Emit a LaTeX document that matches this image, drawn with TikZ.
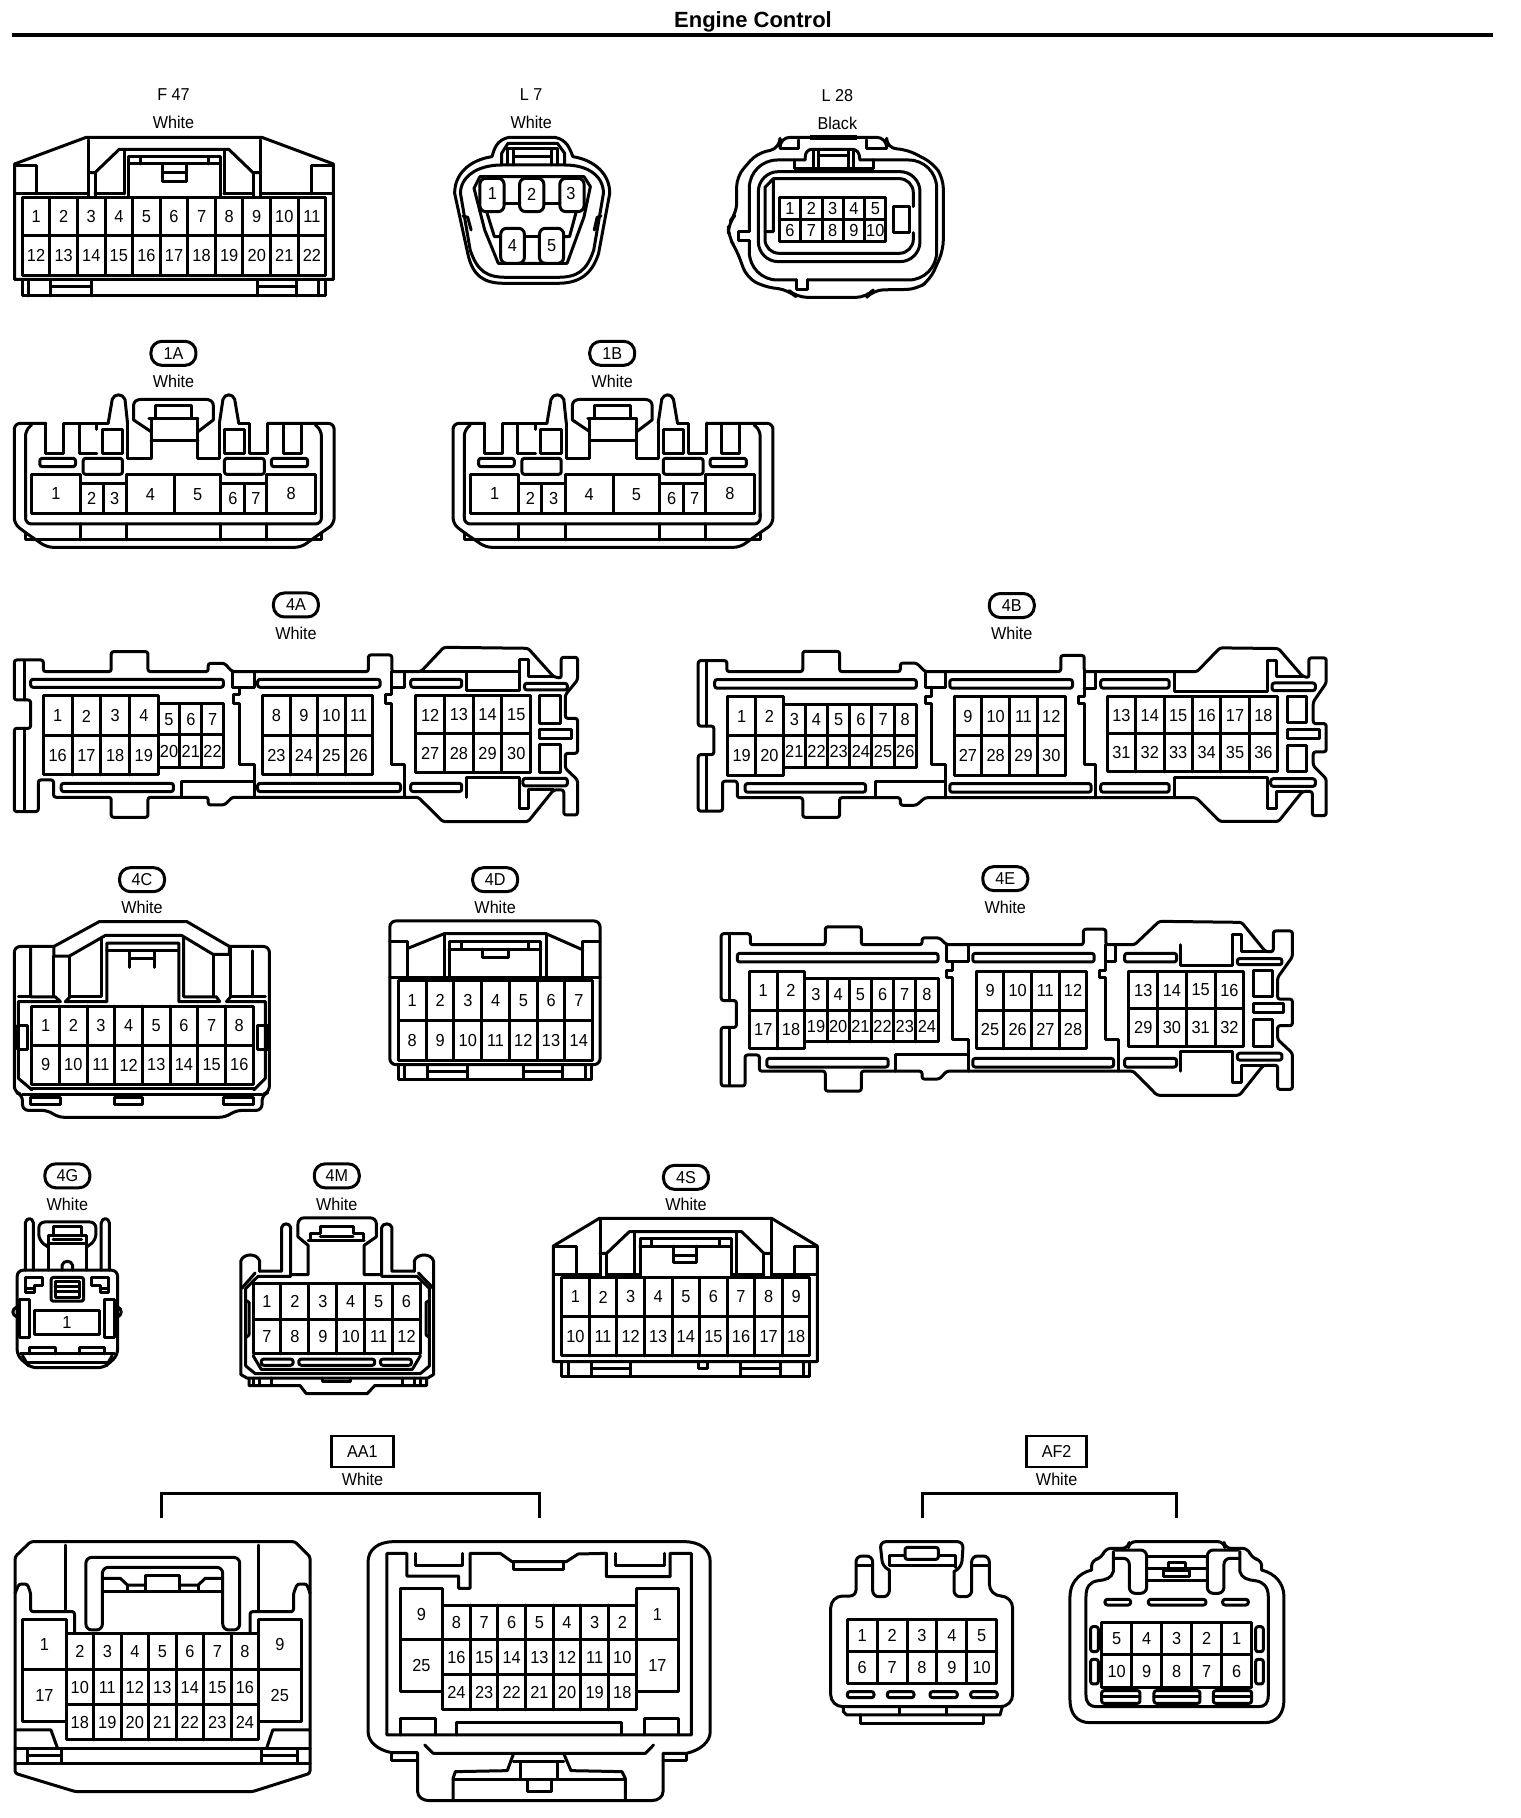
\documentclass[tikz,border=0pt]{standalone}
\usepackage{fontspec}
\setmainfont{Liberation Sans}
\newfontfamily\pinfont[FakeStretch=.94]{Liberation Sans}
\tikzset{
	wire/.style={line width=1.5pt,line join=round,line cap=round},
	curved/.style={wire,rounded corners=3pt},
	slot/.style={wire,rounded corners=1.2pt},
	pinnum/.style={inner sep=0pt,font=\pinfont\fontsize{8.7}{10}\selectfont},
	capt/.style={inner sep=0pt,font=\pinfont\fontsize{8.6}{10}\selectfont},
	tagpill/.style={draw,line width=1.5pt,rounded corners=5.5pt,inner sep=0pt,minimum width=22.5pt,minimum height=12pt,font=\pinfont\fontsize{8.6}{10}\selectfont},
	tagbox/.style={draw,line width=1.3pt,inner sep=0pt,minimum height=15.5pt,font=\pinfont\fontsize{8.6}{10}\selectfont},
	viewA/.style={shift={(0,0)},xscale=.4847,yscale=.3333},
	viewB/.style={shift={(0,340)},xscale=.5102,yscale=.3333},
	viewC/.style={shift={(680,590)},xscale=.4337,yscale=.3444},
	viewD/.style={shift={(0,870)},xscale=.4082,yscale=.3444},
	viewE/.style={shift={(540,1170)},scale=.3333},
	viewF/.style={shift={(0,1430)},xscale=.4719,yscale=.3333},
	viewG/.style={shift={(800,1430)},scale=.3333},
	viewH/.style={shift={(720,80)},scale=.3333}
}
% one row of pins: connector, x0, x1, y0, y1, count, numbers
\newcommand{\pinrow}[7]{
	\pgfmathsetmacro{\cellw}{(#3-#2)/#6}
	\draw[wire] (#2,#4) rectangle (#3,#5);
	\foreach \lab [count=\i] in {#7}{
		\ifnum\i<#6 \draw[wire] ({#2+\i*\cellw},#4) -- ({#2+\i*\cellw},#5);\fi
		\node[pinnum] (#1-\lab) at ({#2+(\i-0.5)*\cellw},{(#4+#5)/2}) {\lab};
	}
}
% one single pin: connector, x0, x1, y0, y1, number
\newcommand{\pinbox}[6]{
	\draw[wire] (#2,#4) rectangle (#3,#5);
	\node[pinnum] (#1-#6) at ({(#2+#3)/2},{(#4+#5)/2}) {#6};
}
\begin{document}
\begin{tikzpicture}[x=0.5pt,y=-0.5pt]
	\useasboundingbox (0,0) rectangle (1520,1818);

	\node[font=\fontsize{11}{12}\selectfont\bfseries,inner sep=0pt] (title) at (753,22) {Engine Control};
	\coordinate (ruleL) at (12,35);
	\coordinate (ruleR) at (1493,35);
	\draw[line width=2pt] (ruleL) -- (ruleR);

	% F47
	\begin{scope}[viewA]
		\node[capt] (nameF47) at (358,285) {F 47};
		\node[capt] (colF47) at (358,368) {White};
		\draw[wire] (30,838) -- (30,492) -- (178,412) -- (540,412) -- (688,492) -- (688,838) -- cycle;
		\draw[wire] (46,838) -- (46,888) -- (672,888) -- (672,838);
		\foreach \xx in {58,105,188,532,612,658} \draw[wire] (\xx,838) -- (\xx,888);
		\draw[wire] (105,860) -- (188,860);
		\draw[wire] (532,860) -- (612,860);
		\draw[wire] (30,582) -- (180,582);
		\draw[wire] (540,582) -- (688,582);
		\draw[wire] (30,498) -- (75,498) -- (75,582);
		\draw[wire] (688,498) -- (642,498) -- (642,582);
		\draw[wire] (182,420) -- (182,592);
		\draw[wire] (538,420) -- (538,592);
		\draw[wire] (182,518) -- (196,518) -- (246,448) -- (472,448) -- (522,518) -- (538,518);
		\draw[wire] (196,518) -- (196,592);
		\draw[wire] (522,518) -- (522,592);
		\draw[wire] (196,582) -- (256,582);
		\draw[wire] (462,582) -- (522,582);
		\draw[wire] (256,450) -- (256,582);
		\draw[wire] (464,450) -- (464,582);
		\draw[wire] (266,592) -- (266,470) -- (454,470) -- (454,592);
		\draw[wire] (266,492) -- (454,492);
		\draw[wire] (290,470) -- (290,492);
		\draw[wire] (430,470) -- (430,492);
		\draw[wire] (335,492) -- (335,545) -- (384,545) -- (384,492);
		\draw[wire] (335,518) -- (384,518);
		\pinrow{F47}{46}{672}{592}{708}{11}{1,...,11}
		\pinrow{F47}{46}{672}{708}{826}{11}{12,...,22}
	\end{scope}

	% L7
	\begin{scope}[viewA]
		\node[capt] (nameL7) at (1096,285) {L 7};
		\node[capt] (colL7) at (1096,368) {White};
		\draw[wire] (1050,412) -- (1145,412) .. controls (1170,420) and (1175,445) .. (1182,470) .. controls (1225,480) and (1258,520) .. (1258,580) -- (1235,760) .. controls (1220,830) and (1190,850) .. (1150,850) -- (1040,850) .. controls (1000,850) and (975,830) .. (965,760) -- (938,580) .. controls (938,520) and (970,480) .. (1015,470) .. controls (1020,445) and (1025,420) .. (1050,412) -- cycle;
		\draw[wire] (1035,495) -- (1165,495) .. controls (1215,495) and (1245,530) .. (1245,580) -- (1225,750) .. controls (1210,815) and (1190,832) .. (1150,832) -- (1045,832) .. controls (1005,832) and (985,815) .. (970,750) -- (950,580) .. controls (950,530) and (985,495) .. (1035,495) -- cycle;
		\draw[wire] (955,648) -- (965,652) -- (972,690);
		\draw[wire] (1240,648) -- (1232,652) -- (1226,690);
		\draw[wire] (1028,790) -- (1000,690) -- (978,565) -- (990,530) -- (1205,530) -- (1218,560) -- (1205,650) -- (1170,790) -- cycle;
		\draw[curved,fill=white] (990,635) rectangle (1040,535);
		\draw[curved,fill=white] (1072,635) rectangle (1122,535);
		\draw[curved,fill=white] (1155,635) rectangle (1205,535);
		\draw[curved,fill=white] (1033,790) rectangle (1082,685);
		\draw[curved,fill=white] (1113,790) rectangle (1163,685);
		\draw[wire] (1040,610) -- (1072,610);
		\draw[wire] (1122,610) -- (1155,610);
		\draw[wire] (1082,710) -- (1113,710);
		\draw[wire] (1005,640) -- (1020,710) -- (1033,710);
		\draw[wire] (1188,640) -- (1175,710) -- (1163,710);
		\draw[wire] (1035,495) -- (1035,460) -- (1048,430) -- (1150,430) -- (1165,460) -- (1165,495);
		\draw[wire] (1048,495) -- (1048,445) -- (1150,445) -- (1150,495);
		\draw[wire] (1060,495) -- (1060,445);
		\draw[wire] (1138,495) -- (1138,445);
		\draw[wire] (1060,470) -- (1138,470);
		\node[pinnum] (L7-1) at (1016,582) {1};
		\node[pinnum] (L7-2) at (1097,582) {2};
		\node[pinnum] (L7-3) at (1178,582) {3};
		\node[pinnum] (L7-4) at (1057,737) {4};
		\node[pinnum] (L7-5) at (1138,737) {5};
	\end{scope}

	% L28
	\begin{scope}[viewH]
		\node[capt] (nameL28) at (352,48) {L 28};
		\node[capt] (colL28) at (352,130) {Black};
		\draw[wire,rounded corners=5pt] (180,205) -- (180,172) -- (500,172) -- (500,205) -- (560,208) -- (640,250) -- (670,295) -- (670,510) -- (630,600) -- (590,628) -- (460,630) -- (440,652) -- (230,652) -- (205,630) -- (130,620) -- (80,592) -- (50,510) -- (25,470) -- (25,430) -- (50,400) -- (50,290) -- (110,220) -- cycle;
		\draw[line width=2.4pt] (270,172) -- (410,172);
		\draw[wire] (180,205) -- (235,205) -- (235,180);
		\draw[wire] (500,205) -- (440,205) -- (440,180);
		\draw[wire] (88,455) -- (55,455) -- (55,482) -- (88,482);
		\draw[wire,rounded corners=14pt] (88,455) -- (88,240) -- (255,240);
		\draw[wire,rounded corners=14pt] (88,482) -- (88,600) -- (230,600);
		\draw[wire,rounded corners=14pt] (420,240) -- (650,240) -- (650,600) -- (262,600);
		\draw[wire] (230,600) -- (230,628) -- (262,628) -- (262,600);
		\draw[wire,rounded corners=10pt] (115,275) rectangle (600,545);
		\draw[wire] (160,296) -- (135,322) -- (135,455) -- (160,455) -- cycle;
		\draw[wire,rounded corners=7pt] (160,296) -- (580,296) -- (580,380);
		\draw[wire,rounded corners=7pt] (580,458) -- (580,520) -- (135,520) -- (135,455);
		\draw[wire] (520,380) rectangle (570,458);
		\draw[curved] (255,240) -- (258,208) -- (415,208) -- (420,240);
		\draw[wire] (222,240) -- (222,265) -- (460,265) -- (460,240);
		\foreach \xx in {280,295,385,400} \draw[wire] (\xx,210) -- (\xx,265);
		\draw[wire] (295,228) -- (385,228);
		\pinrow{L28}{178}{498}{352}{418}{5}{1,...,5}
		\pinrow{L28}{178}{498}{418}{484}{5}{6,...,10}
	\end{scope}

	% 1A and 1B are the same shell
	\begin{scope}[viewB]
		\foreach \nm/\dx in {1A/0,1B/860}{
			\begin{scope}[shift={(\dx,0)}]
				\node[tagpill] (tag\nm) at (340,40) {\nm};
				\node[capt] (col\nm) at (340,125) {White};
				\draw[curved] (90,250) -- (28,250) -- (28,552) -- (50,578) -- (92,622) -- (590,622) -- (630,578) -- (655,552) -- (655,250) -- (525,250);
				\draw[wire] (90,250) -- (90,340) -- (125,340) -- (125,250) -- (212,250);
				\draw[wire] (525,250) -- (525,340) -- (490,340) -- (490,250) -- (468,250);
				\draw[wire] (212,250) -- (220,178) .. controls (224,160) and (240,160) .. (245,178) -- (250,250);
				\draw[wire] (430,250) -- (437,178) .. controls (441,160) and (456,160) .. (460,178) -- (468,250);
				\draw[wire] (250,250) -- (250,355) -- (296,355) -- (296,235);
				\draw[wire] (430,250) -- (430,355) -- (388,355) -- (388,235);
				\draw[wire] (296,275) -- (262,240) -- (262,195) .. controls (262,185) and (268,178) .. (278,178) -- (402,178) .. controls (412,178) and (418,185) .. (418,195) -- (418,240) -- (388,275);
				\draw[wire] (292,235) -- (388,235);
				\draw[wire] (305,235) -- (305,198) -- (375,198) -- (375,235);
				\draw[wire] (296,302) -- (388,302);
				\draw[curved] (50,530) -- (50,270) -- (62,255);
				\draw[curved] (630,530) -- (630,270) -- (618,255);
				\draw[wire] (155,250) -- (155,340) -- (190,340);
				\draw[wire] (190,250) -- (190,268);
				\draw[wire] (200,268) rectangle (240,340);
				\draw[wire] (440,268) rectangle (480,340);
				\draw[wire] (555,250) -- (555,340) -- (590,340) -- (590,250);
				\draw[slot] (78,355) rectangle (148,380);
				\draw[slot] (163,355) rectangle (240,403);
				\draw[slot] (440,355) rectangle (518,403);
				\draw[slot] (532,355) rectangle (603,380);
				\pinbox{\nm}{62}{157}{403}{520}{1}
				\pinbox{\nm}{157}{202}{430}{520}{2}
				\pinbox{\nm}{202}{248}{430}{520}{3}
				\pinbox{\nm}{248}{342}{405}{520}{4}
				\pinbox{\nm}{342}{433}{405}{520}{5}
				\pinbox{\nm}{433}{480}{430}{520}{6}
				\pinbox{\nm}{480}{523}{430}{520}{7}
				\pinbox{\nm}{523}{618}{403}{520}{8}
				\draw[curved] (50,520) -- (50,552) -- (630,552) -- (630,520);
				\draw[wire] (50,578) -- (50,600) -- (630,600) -- (630,578);
				\foreach \xx in {157,248,433,523} \draw[wire] (\xx,552) -- (\xx,600);
			\end{scope}
		}
	\end{scope}

	% 4A
	\begin{scope}[viewB]
		\node[tagpill] (tag4A) at (580,795) {4A};
		\node[capt] (col4A) at (580,880) {White};
		\draw[slot] (85,995) -- (85,960) -- (28,960) -- (28,1080) -- (60,1080) -- (60,1165) -- (28,1165) -- (28,1415) -- (75,1415) -- (75,1320) -- (105,1320) -- (105,1372) -- (218,1372) -- (218,1432) -- (290,1432) -- (290,1372) -- (408,1372) -- (408,1395) -- (440,1395) -- (455,1372) -- (820,1372) -- (868,1445) -- (1035,1445) -- (1085,1350) -- (1105,1350) -- (1105,1425) -- (1132,1425) -- (1132,1320) -- (1108,1285) -- (1108,1240) -- (1132,1240) -- (1132,1135) -- (1108,1135) -- (1108,1065) -- (1132,1020) -- (1132,952) -- (1100,952) -- (1100,1015) -- (1085,1010) -- (1035,925) -- (870,922) -- (825,995) -- (768,995) -- (768,945) -- (722,945) -- (722,995) -- (455,995) -- (440,970) -- (408,970) -- (408,995) -- (290,995) -- (290,935) -- (218,935) -- (218,995) -- cycle;
		\draw[wire] (48,962) -- (48,1080);
		\draw[wire] (48,1165) -- (48,1412);
		\draw[wire] (1018,995) -- (1018,960) -- (1035,960) -- (1035,1010) -- (1085,1010);
		\draw[wire] (1018,1372) -- (1018,1405) -- (1035,1405) -- (1035,1350) -- (1085,1350);
		\draw[wire] (825,995) -- (1018,995);
		\foreach \xa/\ya/\xb/\yb in {60/1018/438/1042,505/1018/745/1042,805/1018/905/1042,1028/1030/1112/1050,120/1330/340/1355,505/1330/785/1355,805/1330/905/1355,1025/1315/1112/1338}
			\draw[slot] (\xa,\ya) rectangle (\xb,\yb);
		\draw[wire] (915,995) -- (915,1052) -- (1018,1052) -- (1018,995);
		\draw[wire] (915,1372) -- (915,1312) -- (1018,1312) -- (1018,1372);
		\draw[wire] (455,995) -- (455,1042) -- (498,1042) -- (498,995);
		\draw[wire] (470,1042) -- (470,1065) -- (458,1065) -- (458,1090) -- (470,1090) -- (470,1275) -- (498,1275) -- (498,1372);
		\draw[wire] (355,1372) -- (355,1325) -- (498,1325);
		\draw[wire] (768,995) -- (768,1065) -- (755,1065) -- (755,1090) -- (768,1090) -- (768,1275) -- (792,1275) -- (792,1372);
		\draw[wire] (768,1042) -- (792,1042) -- (792,995);
		\draw[wire] (1058,1068) rectangle (1098,1150);
		\draw[wire] (1058,1168) rectangle (1120,1195);
		\draw[wire] (1058,1215) rectangle (1098,1298);
		\pinrow{4A}{85}{310}{1068}{1188}{4}{1,...,4}
		\pinrow{4A}{85}{310}{1188}{1305}{4}{16,...,19}
		\pinrow{4A}{310}{438}{1092}{1185}{3}{5,6,7}
		\pinrow{4A}{310}{438}{1185}{1282}{3}{20,21,22}
		\pinrow{4A}{515}{730}{1068}{1188}{4}{8,...,11}
		\pinrow{4A}{515}{730}{1188}{1305}{4}{23,...,26}
		\pinrow{4A}{815}{1040}{1068}{1182}{4}{12,...,15}
		\pinrow{4A}{815}{1040}{1182}{1298}{4}{27,...,30}
	\end{scope}

	% 4B
	\begin{scope}[viewC]
		\node[tagpill] (tag4B) at (765,45) {4B};
		\node[capt] (col4B) at (765,125) {White};
		\draw[slot] (108,237) -- (108,205) -- (42,205) -- (42,395) -- (78,395) -- (78,478) -- (42,478) -- (42,642) -- (98,642) -- (98,555) -- (132,555) -- (132,603) -- (283,603) -- (283,660) -- (368,660) -- (368,603) -- (508,603) -- (508,625) -- (545,625) -- (565,603) -- (1190,603) -- (1245,672) -- (1380,672) -- (1435,585) -- (1458,585) -- (1458,655) -- (1490,655) -- (1490,548) -- (1460,510) -- (1460,470) -- (1490,470) -- (1490,388) -- (1460,388) -- (1460,325) -- (1490,270) -- (1490,197) -- (1450,197) -- (1450,255) -- (1435,250) -- (1380,170) -- (1245,168) -- (1192,237) -- (932,237) -- (932,190) -- (878,190) -- (878,237) -- (565,237) -- (545,212) -- (508,212) -- (508,237) -- (368,237) -- (368,178) -- (283,178) -- (283,237) -- cycle;
		\draw[wire] (62,207) -- (62,395);
		\draw[wire] (62,478) -- (62,640);
		\foreach \xa/\ya/\xb/\yb in {80/260/545/285,622/260/905/285,970/260/1128/285,1365/270/1465/292,150/562/428/587,622/562/948/587,970/562/1128/587,1362/548/1465/570}
			\draw[slot] (\xa,\ya) rectangle (\xb,\yb);
		\draw[wire] (1140,237) -- (1140,295) -- (1355,295) -- (1355,205) -- (1375,205) -- (1375,250) -- (1435,250);
		\draw[wire] (1140,603) -- (1140,545) -- (1355,545) -- (1355,635) -- (1375,635) -- (1375,585) -- (1435,585);
		\draw[wire] (565,237) -- (565,282) -- (612,282) -- (612,237);
		\draw[wire] (580,282) -- (580,310) -- (565,310) -- (565,330) -- (580,330) -- (580,508) -- (612,508) -- (612,603);
		\draw[wire] (450,603) -- (450,555) -- (612,555);
		\draw[wire] (932,237) -- (932,310) -- (918,310) -- (918,330) -- (932,330) -- (932,508) -- (958,508) -- (958,603);
		\draw[wire] (932,285) -- (958,285) -- (958,237);
		\draw[wire] (1400,310) rectangle (1445,385);
		\draw[wire] (1400,405) rectangle (1475,432);
		\draw[wire] (1400,452) rectangle (1445,528);
		\pinrow{4B}{110}{238}{310}{422}{2}{1,2}
		\pinrow{4B}{110}{238}{422}{538}{2}{19,20}
		\pinrow{4B}{238}{545}{332}{422}{6}{3,...,8}
		\pinrow{4B}{238}{545}{422}{515}{6}{21,...,26}
		\pinrow{4B}{632}{888}{310}{422}{4}{9,...,12}
		\pinrow{4B}{632}{888}{422}{538}{4}{27,...,30}
		\pinrow{4B}{985}{1378}{310}{418}{6}{13,...,18}
		\pinrow{4B}{985}{1378}{418}{528}{6}{31,...,36}
	\end{scope}

	% 4E
	\begin{scope}[viewC]
		\node[tagpill] (tag4E) at (750,838) {4E};
		\node[capt] (col4E) at (750,920) {White};
		\draw[slot] (162,1030) -- (162,998) -- (95,998) -- (95,1192) -- (130,1192) -- (130,1270) -- (95,1270) -- (95,1440) -- (150,1440) -- (150,1350) -- (183,1350) -- (183,1397) -- (335,1397) -- (335,1455) -- (418,1455) -- (418,1397) -- (558,1397) -- (558,1420) -- (598,1420) -- (615,1397) -- (1045,1397) -- (1100,1467) -- (1290,1467) -- (1345,1380) -- (1378,1380) -- (1378,1450) -- (1412,1450) -- (1412,1345) -- (1378,1305) -- (1378,1265) -- (1412,1265) -- (1412,1188) -- (1378,1188) -- (1378,1125) -- (1412,1065) -- (1412,990) -- (1368,990) -- (1368,1050) -- (1350,1050) -- (1295,965) -- (1105,962) -- (1048,1030) -- (982,1030) -- (982,985) -- (930,985) -- (930,1030) -- (615,1030) -- (598,1010) -- (558,1010) -- (558,1030) -- (418,1030) -- (418,978) -- (335,978) -- (335,1030) -- cycle;
		\draw[wire] (115,1000) -- (115,1192);
		\draw[wire] (115,1270) -- (115,1438);
		\foreach \xa/\ya/\xb/\yb in {132/1055/595/1080,675/1055/955/1080,1025/1055/1145/1080,1285/1070/1388/1088,200/1360/480/1385,675/1360/1000/1385,1025/1360/1145/1385,1285/1345/1388/1365}
			\draw[slot] (\xa,\ya) rectangle (\xb,\yb);
		\draw[wire] (1155,1030) -- (1155,1090) -- (1275,1090) -- (1275,1000) -- (1295,1000) -- (1295,1050) -- (1350,1050);
		\draw[wire] (1155,1397) -- (1155,1340) -- (1275,1340) -- (1275,1430) -- (1295,1430) -- (1295,1380) -- (1345,1380);
		\draw[wire] (615,1030) -- (615,1078) -- (665,1078) -- (665,1030);
		\draw[wire] (628,1078) -- (628,1105) -- (615,1105) -- (615,1125) -- (628,1125) -- (628,1305) -- (665,1305) -- (665,1397);
		\draw[wire] (498,1397) -- (498,1350) -- (665,1350);
		\draw[wire] (982,1030) -- (982,1105) -- (968,1105) -- (968,1125) -- (982,1125) -- (982,1305) -- (1010,1305) -- (1010,1397);
		\draw[wire] (982,1078) -- (1005,1078) -- (1005,1030);
		\draw[wire] (1322,1105) rectangle (1365,1180);
		\draw[wire] (1322,1200) rectangle (1392,1228);
		\draw[wire] (1322,1248) rectangle (1365,1325);
		\pinrow{4E}{160}{288}{1108}{1220}{2}{1,2}
		\pinrow{4E}{160}{288}{1220}{1332}{2}{17,18}
		\pinrow{4E}{288}{595}{1128}{1220}{6}{3,...,8}
		\pinrow{4E}{288}{595}{1220}{1312}{6}{19,...,24}
		\pinrow{4E}{683}{938}{1108}{1220}{4}{9,...,12}
		\pinrow{4E}{683}{938}{1220}{1332}{4}{25,...,28}
		\pinrow{4E}{1035}{1300}{1108}{1215}{4}{13,...,16}
		\pinrow{4E}{1035}{1300}{1215}{1325}{4}{29,...,32}
	\end{scope}

	% 4C
	\begin{scope}[viewD]
		\node[tagpill] (tag4C) at (348,28) {4C};
		\node[capt] (col4C) at (348,108) {White};
		\draw[curved] (132,222) -- (35,222) -- (35,645) -- (55,652) -- (55,698) -- (118,698) -- (142,718) -- (552,718) -- (578,698) -- (642,698) -- (642,652) -- (660,645) -- (660,222) -- (562,222);
		\draw[wire] (132,222) -- (243,150) -- (458,150) -- (562,222);
		\draw[wire] (132,222) -- (132,250) -- (170,250) -- (258,190) -- (445,190) -- (522,245) -- (562,245) -- (562,222);
		\draw[wire] (75,225) -- (75,368) -- (135,368) -- (148,382) -- (45,382) -- (45,605) -- (78,638);
		\draw[wire] (132,250) -- (132,368);
		\draw[wire] (45,368) -- (75,368);
		\draw[wire] (170,250) -- (170,368) -- (248,368) -- (248,200);
		\draw[wire] (160,382) -- (172,368);
		\draw[wire] (160,382) -- (262,382) -- (262,212) -- (438,212) -- (438,382) -- (538,382) -- (530,368) -- (450,368) -- (450,195);
		\draw[wire] (262,235) -- (438,235);
		\draw[wire] (318,283) -- (318,235);
		\draw[wire] (378,283) -- (378,235);
		\draw[wire] (318,258) -- (378,258);
		\draw[wire] (522,245) -- (522,368);
		\draw[wire] (565,222) -- (565,368) -- (650,368);
		\draw[wire] (618,368) -- (618,235);
		\draw[wire] (555,382) -- (650,382) -- (650,605) -- (622,638);
		\draw[wire] (555,382) -- (565,368);
		\draw[wire] (42,452) rectangle (68,520);
		\draw[wire] (630,452) rectangle (658,520);
		\pinrow{4C}{78}{620}{395}{510}{8}{1,...,8}
		\pinrow{4C}{78}{620}{510}{622}{8}{9,...,16}
		\draw[wire] (78,635) -- (622,635);
		\draw[wire] (55,652) -- (642,652);
		\draw[wire] (75,660) rectangle (148,680);
		\draw[wire] (280,660) rectangle (348,680);
		\draw[wire] (548,660) rectangle (620,680);
	\end{scope}

	% 4D
	\begin{scope}[viewD]
		\node[tagpill] (tag4D) at (1213,28) {4D};
		\node[capt] (col4D) at (1213,108) {White};
		\draw[curved] (955,565) -- (955,148) -- (1470,148) -- (1470,565) -- cycle;
		\draw[wire] (975,565) -- (975,608) -- (1450,608) -- (1450,565);
		\foreach \xx in {990,1048,1145,1282,1378,1435} \draw[wire] (\xx,565) -- (\xx,608);
		\draw[wire] (1048,585) -- (1145,585);
		\draw[wire] (1282,585) -- (1378,585);
		\draw[wire] (955,312) -- (1470,312);
		\draw[wire] (955,208) -- (998,208) -- (998,312);
		\draw[wire] (1470,208) -- (1428,208) -- (1428,312);
		\draw[wire] (998,228) -- (1088,185) -- (1338,185) -- (1428,232);
		\draw[wire] (1088,185) -- (1088,312);
		\draw[wire] (1338,185) -- (1338,312);
		\draw[wire] (1100,322) -- (1100,208) -- (1325,208) -- (1325,322);
		\draw[wire] (1100,230) -- (1325,230);
		\draw[wire] (1130,208) -- (1130,230);
		\draw[wire] (1295,208) -- (1295,230);
		\draw[wire] (1183,230) -- (1183,255) -- (1245,255) -- (1245,230);
		\pinrow{4D}{976}{1452}{322}{437}{7}{1,...,7}
		\pinrow{4D}{976}{1452}{437}{552}{7}{8,...,14}
	\end{scope}

	% 4G
	\begin{scope}[viewD]
		\node[tagpill] (tag4G) at (165,888) {4G};
		\node[capt] (col4G) at (165,970) {White};
		\foreach \xx in {62,248} \draw[wire] (\xx,1162) -- (\xx,1025) .. controls (\xx+2,1008) and (\xx+18,1008) .. (\xx+20,1025) -- (\xx+20,1162);
		\draw[curved] (118,1095) -- (95,1075) -- (95,1022) -- (235,1022) -- (235,1075) -- (212,1095);
		\draw[wire] (118,1162) -- (118,1062) -- (212,1062) -- (212,1162);
		\draw[wire] (130,1062) -- (130,1035) -- (200,1035) -- (200,1062);
		\draw[wire] (130,1072) -- (200,1072);
		\draw[wire] (118,1085) -- (212,1085);
		\draw[curved] (42,1162) -- (288,1162) -- (288,1410) -- (255,1445) -- (75,1445) -- (42,1410) -- cycle;
		\draw[wire] (152,1162) -- (152,1148) .. controls (155,1132) and (175,1132) .. (178,1148) -- (178,1162);
		\draw[slot] (125,1183) rectangle (205,1252);
		\draw[wire] (135,1195) rectangle (195,1240);
		\draw[wire] (135,1208) -- (195,1208);
		\draw[wire] (135,1224) -- (195,1224);
		\draw[wire] (62,1183) -- (105,1183) -- (105,1205) -- (85,1205) -- (85,1228) -- (62,1228) -- cycle;
		\draw[wire] (62,1215) -- (85,1215);
		\draw[wire] (225,1183) -- (265,1183) -- (265,1228) -- (245,1228) -- (245,1205) -- (225,1205) -- cycle;
		\draw[wire] (245,1215) -- (265,1215);
		\draw[wire] (48,1248) rectangle (72,1358);
		\draw[wire] (255,1248) rectangle (280,1358);
		\draw[wire] (42,1268) .. controls (28,1275) and (28,1292) .. (42,1298);
		\draw[wire] (288,1268) .. controls (300,1275) and (300,1292) .. (288,1298);
		\pinbox{4G}{85}{243}{1280}{1348}{1}
		\draw[wire] (72,1405) -- (72,1385) -- (135,1385) -- (135,1405);
		\draw[wire] (195,1405) -- (195,1385) -- (255,1385) -- (255,1405);
		\draw[wire] (50,1405) -- (280,1405);
		\draw[wire] (65,1430) -- (265,1430);
		\draw[wire] (55,1410) -- (70,1440);
		\draw[wire] (275,1410) -- (260,1440);
	\end{scope}

	% 4M
	\begin{scope}[viewD]
		\node[tagpill] (tag4M) at (825,888) {4M};
		\node[capt] (col4M) at (825,970) {White};
		\draw[wire] (636,1165) -- (636,1135) .. controls (630,1112) and (596,1112) .. (590,1135) -- (590,1465) -- (605,1475) -- (1048,1475) -- (1062,1465) -- (1062,1135) .. controls (1056,1112) and (1022,1112) .. (1015,1135) -- (1015,1165);
		\draw[wire] (610,1475) -- (610,1497) -- (735,1497) -- (750,1520) -- (900,1520) -- (918,1497) -- (1045,1497) -- (1045,1475);
		\draw[wire] (636,1165) -- (690,1165) -- (690,1038) .. controls (692,1024) and (710,1024) .. (712,1038) -- (712,1175) -- (755,1175) -- (755,1090) -- (730,1065);
		\draw[curved] (730,1065) -- (730,1010) -- (922,1010) -- (922,1065);
		\draw[wire] (922,1065) -- (892,1090) -- (892,1175) -- (935,1175) -- (935,1038) .. controls (937,1024) and (958,1024) .. (960,1038) -- (960,1165) -- (1015,1165);
		\draw[wire] (755,1075) -- (892,1075);
		\draw[wire] (760,1075) -- (760,1055) -- (785,1055) -- (785,1035) -- (865,1035) -- (865,1055) -- (890,1055) -- (890,1075);
		\draw[wire] (785,1065) -- (865,1065);
		\draw[wire] (592,1215) -- (625,1170);
		\draw[wire] (1062,1215) -- (1025,1170);
		\draw[wire] (712,1180) -- (632,1180) -- (602,1215) -- (602,1440) -- (625,1462) -- (1030,1462) -- (1052,1440) -- (1052,1215) -- (1022,1180) -- (935,1180);
		\draw[wire] (602,1250) -- (610,1255) -- (610,1350) -- (602,1358);
		\draw[wire] (1052,1250) -- (1044,1255) -- (1044,1350) -- (1052,1358);
		\pinrow{4M}{620}{1030}{1200}{1305}{6}{1,...,6}
		\pinrow{4M}{620}{1030}{1305}{1405}{6}{7,...,12}
		\draw[slot] (640,1420) rectangle (718,1438);
		\draw[slot] (732,1420) rectangle (918,1438);
		\draw[slot] (932,1420) rectangle (1008,1438);
		\draw[wire] (620,1410) -- (640,1450) -- (1010,1450) -- (1030,1410);
		\foreach \xx in {622,635,665,985,1015,1030} \draw[wire] (\xx,1475) -- (\xx,1497);
		\draw[wire] (790,1475) -- (790,1485) -- (858,1485) -- (858,1475);
	\end{scope}

	% 4S
	\begin{scope}[viewE]
		\node[tagpill] (tag4S) at (438,22) {4S};
		\node[capt] (col4S) at (438,102) {White};
		\draw[wire] (40,228) -- (178,145) -- (695,145) -- (832,228) -- (832,575) -- (40,575) -- cycle;
		\draw[wire] (65,575) -- (65,620) -- (810,620) -- (810,575);
		\foreach \xx in {85,155,272,603,722,790} \draw[wire] (\xx,575) -- (\xx,620);
		\draw[wire] (155,595) -- (272,595);
		\draw[wire] (603,595) -- (722,595);
		\draw[wire] (475,575) -- (475,597) -- (503,597) -- (503,575);
		\draw[wire] (40,312) -- (180,312);
		\draw[wire] (200,312) -- (295,312);
		\draw[wire] (580,312) -- (672,312);
		\draw[wire] (695,312) -- (832,312);
		\draw[wire] (40,228) -- (108,228) -- (108,312);
		\draw[wire] (832,228) -- (765,228) -- (765,312);
		\draw[wire] (180,150) -- (180,322);
		\draw[wire] (695,150) -- (695,322);
		\draw[wire] (180,250) -- (200,250) -- (268,185) -- (605,185) -- (672,250) -- (695,250);
		\draw[wire] (200,250) -- (200,322);
		\draw[wire] (672,250) -- (672,322);
		\draw[wire] (283,185) -- (283,312);
		\draw[wire] (590,185) -- (590,312);
		\draw[wire] (300,322) -- (300,205) -- (575,205) -- (575,322);
		\draw[wire] (300,228) -- (575,228);
		\draw[wire] (335,205) -- (335,228);
		\draw[wire] (540,205) -- (540,228);
		\draw[wire] (400,228) -- (400,278) -- (470,278) -- (470,228);
		\draw[wire] (400,255) -- (470,255);
		\pinrow{4S}{65}{810}{322}{440}{9}{1,...,9}
		\pinrow{4S}{65}{810}{440}{558}{9}{10,...,18}
	\end{scope}

	% AA1
	\begin{scope}[viewF]
		\node[tagbox,minimum width=31pt] (tagAA1) at (768,64) {AA1};
		\node[capt] (colAA1) at (768,147) {White};
		\coordinate (aaL) at (343,265);
		\coordinate (aaR) at (1143,265);
		\draw[line width=1.5pt] (aaL) |- (colAA1 |- 0,190) -| (aaR);

		\draw[slot] (32,380) -- (65,335) -- (625,335) -- (657,380) -- (657,1030) -- (535,1085) -- (160,1085) -- (32,1030) -- cycle;
		\draw[slot] (158,605) -- (158,545) -- (65,545) -- (65,490) -- (58,462) -- (40,462) -- (32,490);
		\draw[slot] (530,605) -- (530,545) -- (622,545) -- (622,490) -- (630,462) -- (650,462) -- (657,490);
		\draw[wire] (138,345) -- (138,545);
		\draw[wire] (548,345) -- (548,545);
		\draw[curved] (182,600) -- (182,382) -- (508,382) -- (508,600) -- (472,600) -- (472,412) -- (217,412) -- (217,600) -- cycle;
		\draw[wire] (217,445) -- (255,445) -- (270,465) -- (308,465);
		\draw[wire] (308,435) rectangle (380,483);
		\draw[wire] (380,465) -- (420,465) -- (435,445) -- (472,445);
		\draw[wire] (217,483) -- (472,483);
		\draw[wire] (270,465) -- (270,483);
		\draw[wire] (420,465) -- (420,483);
		\pinbox{AA1}{48}{140}{568}{718}{1}
		\pinbox{AA1}{48}{140}{718}{875}{17}
		\pinbox{AA1}{548}{638}{568}{718}{9}
		\pinbox{AA1}{548}{638}{718}{875}{25}
		\pinrow{AA1}{140}{548}{612}{718}{7}{2,...,8}
		\pinrow{AA1}{140}{548}{718}{825}{7}{10,...,16}
		\pinrow{AA1}{140}{548}{825}{930}{7}{18,...,24}
		\draw[wire] (35,900) -- (108,900) -- (122,955);
		\draw[wire] (655,900) -- (578,900) -- (565,955);
		\draw[wire] (32,955) -- (657,955);
		\draw[wire] (32,1000) -- (657,1000);
		\foreach \xx in {58,130,555,630} \draw[wire] (\xx,958) -- (\xx,1000);
		\draw[wire] (58,978) -- (130,978);
		\draw[wire] (555,978) -- (630,978);

		\draw[wire] (830,968) .. controls (800,960) and (780,935) .. (780,905) -- (780,395) .. controls (780,360) and (800,335) .. (835,335) -- (1450,335) .. controls (1485,335) and (1505,360) .. (1505,395) -- (1505,905) .. controls (1505,935) and (1485,960) .. (1455,970) -- (1405,970) -- (1405,1085) .. controls (1405,1100) and (1395,1112) .. (1380,1112) -- (910,1112) .. controls (895,1112) and (885,1100) .. (885,1085) -- (885,968) -- cycle;
		\draw[wire] (830,968) -- (830,993) -- (885,993);
		\draw[wire] (1405,993) -- (1455,993) -- (1455,970);
		\draw[wire] (820,915) -- (820,370) -- (862,370) -- (862,438) -- (972,438) -- (972,475) -- (996,475) -- (996,370) -- (1060,370) -- (1085,395) -- (1200,395) -- (1225,372) -- (1285,370) -- (1285,440) -- (1420,440) -- (1420,370) -- (1465,370) -- (1465,915) -- cycle;
		\draw[wire] (880,370) -- (880,405) -- (980,405) -- (980,370);
		\draw[wire] (1305,370) -- (1305,405) -- (1408,405) -- (1408,370);
		\draw[wire] (1088,395) -- (1088,417) -- (1195,417) -- (1195,395);
		\pinbox{AA1}{848}{938}{475}{630}{9}
		\pinbox{AA1}{848}{938}{630}{785}{25}
		\pinbox{AA1}{1348}{1438}{475}{630}{1}
		\pinbox{AA1}{1348}{1438}{630}{785}{17}
		\pinrow{AA1}{938}{1348}{525}{630}{7}{8,7,...,2}
		\pinrow{AA1}{938}{1348}{630}{735}{7}{16,15,...,10}
		\pinrow{AA1}{938}{1348}{735}{840}{7}{24,23,...,18}
		\draw[wire] (848,915) -- (848,865) -- (922,865) -- (922,915);
		\draw[wire] (968,915) -- (968,878) -- (1318,878) -- (1318,915);
		\draw[wire] (1365,915) -- (1365,865) -- (1438,865) -- (1438,915);
		\draw[wire] (900,945) -- (918,970) -- (1368,970) -- (1385,945);
		\draw[wire] (1088,972) -- (1075,1022) -- (965,1025) -- (960,1045) -- (960,1110);
		\draw[wire] (1195,972) -- (1210,1022) -- (1318,1025) -- (1325,1045) -- (1325,1110);
		\draw[wire] (960,1048) -- (1325,1048);
		\draw[wire] (1088,995) -- (1195,995);
		\draw[wire] (1102,995) -- (1102,1048);
		\draw[wire] (1182,995) -- (1182,1048);
		\draw[wire] (1118,1048) -- (1118,1085) -- (1168,1085) -- (1168,1048);
	\end{scope}

	% AF2
	\begin{scope}[viewG]
		\node[tagbox,minimum width=30pt] (tagAF2) at (770,64) {AF2};
		\node[capt] (colAF2) at (770,147) {White};
		\coordinate (afL) at (366,265);
		\coordinate (afR) at (1131,265);
		\draw[line width=1.5pt] (afL) |- (colAF2 |- 0,190) -| (afR);

		\draw[curved] (268,420) -- (248,410) -- (240,335) -- (490,335) -- (485,410) -- (462,425);
		\draw[curved] (268,420) -- (268,500) -- (218,500) -- (218,378) -- (168,378) -- (168,498) [rounded corners=6pt] -- (92,498) -- (92,830) -- (638,830) -- (638,498) -- (568,498) [rounded corners=3pt] -- (568,378) -- (515,378) -- (515,500) -- (462,500) -- (462,425);
		\draw[wire] (170,405) -- (218,405);
		\draw[wire] (515,405) -- (566,405);
		\draw[wire] (268,405) -- (268,375) -- (468,375) -- (468,412);
		\draw[wire] (268,405) -- (462,405);
		\draw[slot,fill=white] (315,352) rectangle (415,388);
		\pinrow{AF2}{142}{590}{568}{665}{5}{1,...,5}
		\pinrow{AF2}{142}{590}{665}{760}{5}{6,...,10}
		\foreach \xa/\xb in {142/222,262/342,390/472,512/592} \draw[slot] (\xa,785) rectangle (\xb,803);
		\draw[wire] (130,830) -- (130,845) -- (140,855) -- (600,855) -- (607,830);
		\draw[wire] (298,830) -- (298,855);
		\draw[wire] (438,830) -- (438,855);
		\draw[wire] (180,855) -- (180,880) -- (552,880) -- (552,855);

		\draw[curved] (875,420) -- (875,390) -- (905,385) -- (915,355) -- (985,355) -- (988,335) -- (1272,335) -- (1275,355) -- (1345,355) -- (1355,385) -- (1385,390) -- (1385,420);
		\draw[wire] (875,420) .. controls (835,430) and (810,460) .. (810,500) -- (810,810) .. controls (810,850) and (830,878) .. (870,878) -- (1395,878) .. controls (1430,878) and (1452,850) .. (1452,810) -- (1452,500) .. controls (1452,460) and (1425,430) .. (1385,420);
		\draw[wire] (940,365) -- (940,425) .. controls (935,445) and (915,450) .. (895,452) .. controls (870,455) and (858,470) .. (858,500) -- (858,795) .. controls (858,820) and (870,830) .. (890,830) -- (1375,830) .. controls (1395,830) and (1405,820) .. (1405,795) -- (1405,500) .. controls (1405,470) and (1390,455) .. (1365,452) .. controls (1345,450) and (1325,445) .. (1320,425) -- (1320,365);
		\draw[curved] (945,360) -- (1040,360) -- (1040,490) -- (988,490) -- (988,385) -- (945,385);
		\draw[curved] (1315,360) -- (1222,360) -- (1222,490) -- (1272,490) -- (1272,385) -- (1315,385);
		\draw[wire] (1040,380) -- (1222,380);
		\draw[wire] (1040,415) -- (1222,415);
		\draw[wire] (1040,450) -- (1222,450);
		\draw[wire] (1105,420) -- (1105,398) -- (1158,398) -- (1158,420);
		\draw[wire] (1092,420) rectangle (1168,438);
		\draw[slot] (915,508) rectangle (992,525);
		\draw[slot] (1045,508) rectangle (1218,525);
		\draw[slot] (1268,508) rectangle (1345,525);
		\pinrow{AF2}{905}{1355}{578}{675}{5}{5,4,...,1}
		\pinrow{AF2}{905}{1355}{675}{772}{5}{10,9,...,6}
		\foreach \xa in {872,1367}{
			\draw[slot] (\xa,590) rectangle (\xa+23,665);
			\draw[slot] (\xa,688) rectangle (\xa+23,762);
		}
		\foreach \xa/\xb in {905/1020,1062/1200,1240/1355}{
			\draw[slot] (\xa,782) rectangle (\xb,820);
			\draw[wire] (\xa,800) -- (\xb,800);
		}
	\end{scope}
\end{tikzpicture}
\end{document}
